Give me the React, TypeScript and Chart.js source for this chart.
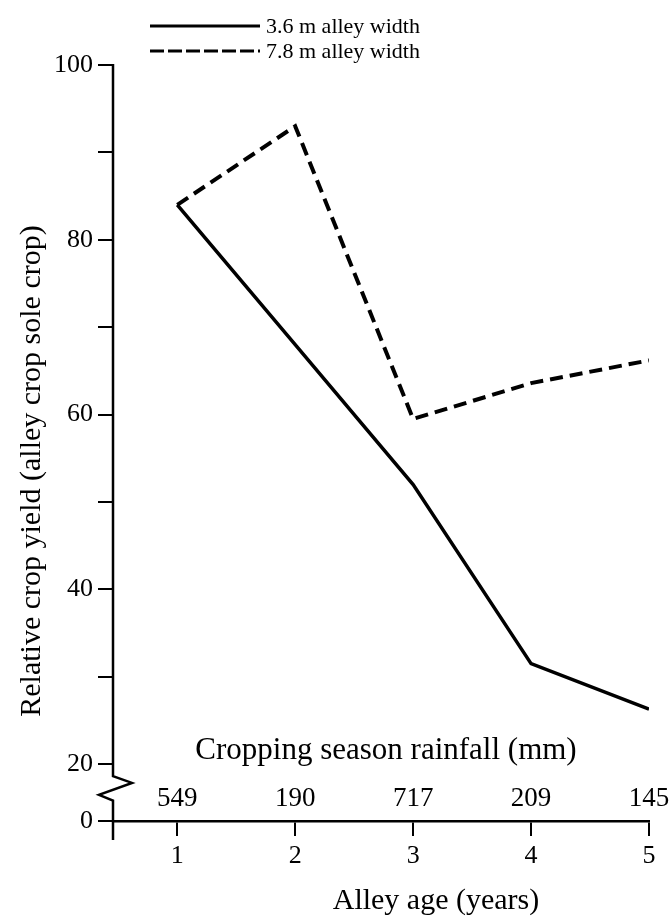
import React, { useEffect, useRef } from 'react';
import { Chart, registerables } from 'chart.js';

Chart.register(...registerables);

// ---- data ----
const ALLEY_AGE = [1, 2, 3, 4, 5];
const RAINFALL_MM = ['549', '190', '717', '209', '145'];
const YIELD_3_6M = [84, 68, 52, 31.5, 26.3];
const YIELD_7_8M = [84, 93, 59.5, 63.6, 66.2];
const Y_TICKS = [0, 20, 30, 40, 50, 60, 70, 80, 90, 100];
const Y_LABELED = [0, 20, 40, 60, 80, 100];
const SERIES_LABELS = ['3.6 m alley width', '7.8 m alley width'];
const X_TITLE = 'Alley age (years)';
const Y_TITLE = 'Relative crop yield (alley crop sole crop)';
const RAIN_TITLE = 'Cropping season rainfall (mm)';

// axis break: value 0 is drawn at the position where 13.5 would sit
const Y_FLOOR = 13.5;
const Y_MAX = 100;
const X_MIN = 0.455;
const X_MAX = 5;

const FONT = '"Liberation Serif", "Times New Roman", serif';
const INK = '#000';

const decorPlugin = {
  id: 'decor',
  afterDraw(chart: any) {
    const { ctx, scales } = chart;
    const x = scales.x;
    const y = scales.y;
    const ax = x.left;
    ctx.save();
    ctx.strokeStyle = INK;
    ctx.fillStyle = INK;
    ctx.lineWidth = 2.5;
    ctx.lineJoin = 'miter';

    // y axis line with break zigzag
    const pTop = y.getPixelForValue(Y_MAX);
    const p20 = y.getPixelForValue(20);
    const p0 = y.bottom;
    const gap = p0 - p20;
    ctx.beginPath();
    ctx.moveTo(ax, pTop - 1);
    ctx.lineTo(ax, p20 + 0.21 * gap);
    ctx.lineTo(ax + 19, p20 + 0.33 * gap);
    ctx.lineTo(ax - 14, p20 + 0.54 * gap);
    ctx.lineTo(ax, p20 + 0.64 * gap);
    ctx.lineTo(ax, p0 + 19);
    ctx.stroke();

    // rainfall row
    ctx.textAlign = 'center';
    ctx.textBaseline = 'middle';
    ctx.font = `27px ${FONT}`;
    ALLEY_AGE.forEach((a, i) => {
      ctx.fillText(RAINFALL_MM[i], x.getPixelForValue(a), p0 - 22);
    });
    ctx.font = `31px ${FONT}`;
    ctx.fillText(RAIN_TITLE, (x.left + x.right) / 2 + 5, p0 - 70);

    // x title
    ctx.font = `30px ${FONT}`;
    ctx.fillText(X_TITLE, (x.left + x.right) / 2 + 55, chart.height - 17);

    // y title
    ctx.save();
    ctx.translate(32, 471);
    ctx.rotate(-Math.PI / 2);
    ctx.font = `30px ${FONT}`;
    ctx.textAlign = 'center';
    ctx.textBaseline = 'middle';
    ctx.fillText(Y_TITLE, 0, 0);
    ctx.restore();

    // legend
    const legX0 = 150;
    const legX1 = 260;
    const legY = [26, 51];
    ctx.font = `22px ${FONT}`;
    ctx.textAlign = 'left';
    ctx.textBaseline = 'middle';
    legY.forEach((ly, i) => {
      ctx.lineWidth = 3;
      ctx.setLineDash(i === 0 ? [] : [14, 4]);
      ctx.beginPath();
      ctx.moveTo(legX0, ly);
      ctx.lineTo(legX1, ly);
      ctx.stroke();
      ctx.setLineDash([]);
      ctx.fillText(SERIES_LABELS[i], legX1 + 6, ly + 1);
    });
    ctx.restore();
  },
};

export default function App() {
  const ref = useRef<HTMLCanvasElement | null>(null);

  useEffect(() => {
    document.body.style.margin = '0';
    const canvas = ref.current;
    if (!canvas) return;
    const chart = new Chart(canvas, {
      type: 'line',
      data: {
        datasets: [
          {
            label: SERIES_LABELS[0],
            data: ALLEY_AGE.map((a, i) => ({ x: a, y: YIELD_3_6M[i] })),
            borderColor: INK,
            borderWidth: 3.5,
            pointRadius: 0,
            tension: 0,
            fill: false,
            borderJoinStyle: 'miter',
          },
          {
            label: SERIES_LABELS[1],
            data: ALLEY_AGE.map((a, i) => ({ x: a, y: YIELD_7_8M[i] })),
            borderColor: INK,
            borderWidth: 4,
            borderDash: [13, 7],
            pointRadius: 0,
            tension: 0,
            fill: false,
            borderJoinStyle: 'miter',
          },
        ],
      },
      options: {
        responsive: false,
        animation: false,
        devicePixelRatio: 1,
        layout: { padding: { left: 0, right: 23, top: 65, bottom: 0 } },
        plugins: {
          legend: { display: false },
          tooltip: { enabled: false },
        },
        scales: {
          x: {
            type: 'linear',
            min: X_MIN,
            max: X_MAX,
            afterBuildTicks: (s: any) => {
              s.ticks = [{ value: X_MIN }, ...ALLEY_AGE.map((v) => ({ value: v }))];
            },
            afterFit: (s: any) => {
              s.height = 97;
            },
            border: { display: true, color: INK, width: 2.5 },
            grid: {
              drawOnChartArea: false,
              drawTicks: true,
              tickLength: 15,
              color: INK,
              lineWidth: 2,
            },
            ticks: {
              autoSkip: false,
              maxRotation: 0,
              color: INK,
              padding: 5,
              font: { family: FONT, size: 26 },
              callback: (_v: any, i: number) => (i === 0 ? '' : String(ALLEY_AGE[i - 1])),
            },
            title: { display: false, text: X_TITLE },
          },
          y: {
            type: 'linear',
            min: Y_FLOOR,
            max: Y_MAX,
            afterBuildTicks: (s: any) => {
              s.ticks = Y_TICKS.map((v) => ({ value: v === 0 ? Y_FLOOR : v }));
            },
            afterFit: (s: any) => {
              s.width = 113;
            },
            border: { display: false },
            grid: {
              drawOnChartArea: false,
              drawTicks: true,
              tickLength: 15,
              color: INK,
              lineWidth: 2,
            },
            ticks: {
              autoSkip: false,
              color: INK,
              padding: 5,
              font: { family: FONT, size: 26 },
              callback: (_v: any, i: number) => {
                const t = Y_TICKS[i];
                return Y_LABELED.includes(t) ? String(t) : '';
              },
            },
            title: { display: false, text: Y_TITLE },
          },
        },
      },
      plugins: [decorPlugin],
    } as any);
    return () => chart.destroy();
  }, []);

  return (
    <div style={{ position: 'absolute', left: 0, top: 0, width: 672, height: 918, background: '#fff' }}>
      <canvas ref={ref} width={672} height={918} style={{ display: 'block' }} />
    </div>
  );
}
